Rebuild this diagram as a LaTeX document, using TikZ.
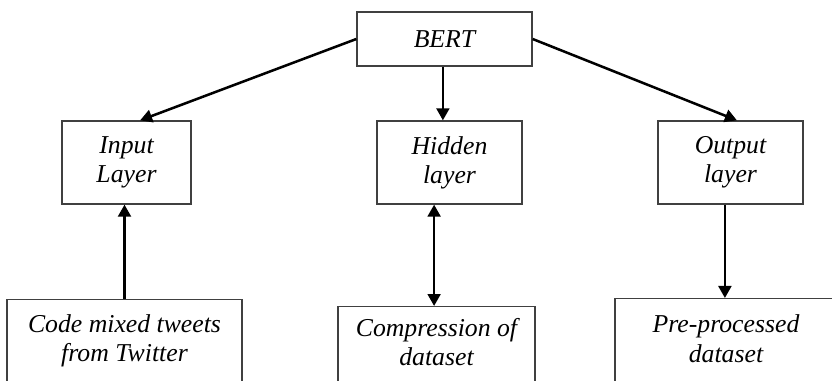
\documentclass[tikz,border=0pt]{standalone}
\usepackage{fontspec}
\setmainfont{Liberation Serif}
\usepackage{tikz}
\usetikzlibrary{positioning,arrows.meta,calc}
\definecolor{boxline}{RGB}{64,64,64}

\begin{document}
\begin{tikzpicture}[x=0.025cm,y=-0.025cm,
  font=\fontsize{18.3}{20.8}\selectfont\itshape,
  >={Triangle[length=0.3cm,width=0.32cm]},
  block/.style={draw=boxline,line width=0.9pt,align=center,inner sep=0pt},
  layer/.style={block,minimum width=3.625cm,minimum height=2.075cm},
  source/.style={block,anchor=north,text depth=1.3cm},
  link/.style={line width=1.8pt,->}]
  \clip (0,0) rectangle (832,380);
  % model
  \node[block,minimum width=4.375cm,minimum height=1.35cm] (bert) at (444.5,39) {BERT};
  % layers
  \node[layer,minimum width=3.225cm] (input) at (126.5,162.5) {Input\\Layer};
  \node[layer] (hidden) at (449.5,162.5) {Hidden\\layer};
  \node[layer] (output) at (730.5,162.5) {Output\\layer};
  % data boxes, cut off at the bottom
  \node[source,minimum width=5.875cm,inner ysep=0.38cm] (tweets) at (124.5,299) {Code mixed tweets\\from Twitter};
  \node[source,minimum width=4.925cm,inner ysep=0.285cm] (compress) at (436.5,306) {Compression of\\dataset};
  \node[source,minimum width=5.55cm,inner ysep=0.41cm] (prep) at (726,298) {Pre-processed\\dataset};
  % connectors
  \draw[link] (bert.west) -- ([xshift=0.34cm]input.north);
  \draw[link] ([xshift=-0.04cm]bert.south) -- ([xshift=-0.04cm]bert.south |- hidden.north);
  \draw[link] (bert.east) -- ([xshift=0.16cm]output.north);
  \draw[link] (tweets.north) -- (tweets.north |- input.south);
  \draw[link,<->] ([xshift=-0.06cm]compress.north |- hidden.south) -- ([xshift=-0.06cm]compress.north);
  \draw[link] ([xshift=-0.14cm]output.south) -- ([xshift=-0.14cm]output.south |- prep.north);
\end{tikzpicture}
\end{document}
